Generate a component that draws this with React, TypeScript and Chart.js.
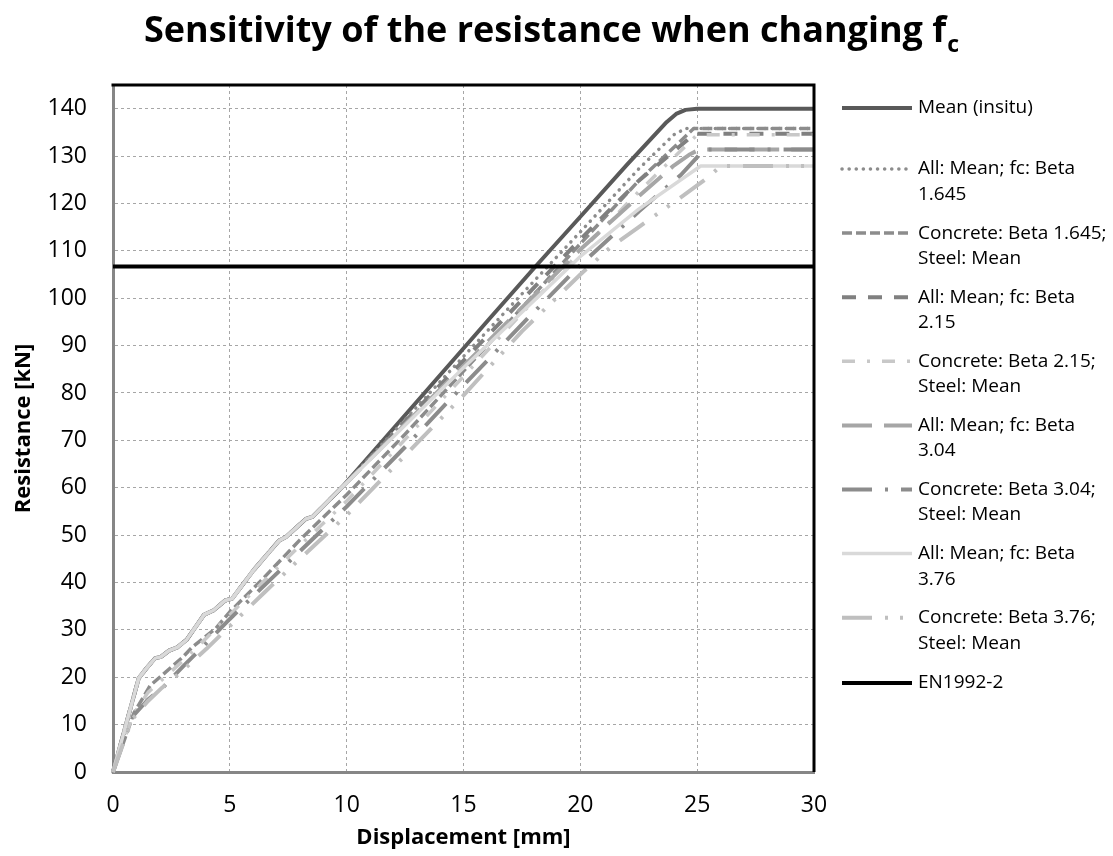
import React, { useEffect, useRef } from "react";
import { Chart, registerables } from "chart.js";

Chart.register(...registerables);

const FONT = "'Open Sans', 'DejaVu Sans', sans-serif";

// ---------------- data ----------------
const titleMain = "Sensitivity of the resistance when changing f";
const titleSub = "c";
const xAxisTitle = "Displacement [mm]";
const yAxisTitle = "Resistance [kN]";

const seriesNames = [
  "Mean (insitu)",
  "All: Mean; fc: Beta\n1.645",
  "Concrete: Beta 1.645;\nSteel: Mean",
  "All: Mean; fc: Beta\n2.15",
  "Concrete: Beta 2.15;\nSteel: Mean",
  "All: Mean; fc: Beta\n3.04",
  "Concrete: Beta 3.04;\nSteel: Mean",
  "All: Mean; fc: Beta\n3.76",
  "Concrete: Beta 3.76;\nSteel: Mean",
  "EN1992-2",
];

// early part shared by the "All" curves
const earlyX = [0, 1.1, 1.45, 1.8, 2.05, 2.4, 2.75, 3.15, 3.9, 4.3, 4.8, 5.1, 6.0, 7.1, 7.4, 8.25, 8.55, 9.8];
const earlyY = [0, 19.8, 22, 24, 24.3, 25.6, 26.3, 27.9, 33.2, 34.1, 36.2, 36.6, 42.5, 48.8, 49.6, 53.4, 53.9, 60.1];

const meanX = [...earlyX, 12.3, 14.5, 16.1, 18.1, 20, 22, 23.7, 24.1, 24.5, 25, 30];
const meanY = [...earlyY, 74.2, 86.6, 95.6, 106.8, 117.2, 128.2, 137.2, 138.9, 139.75, 140, 140];

const all1645X = [...earlyX, 12.5, 15, 17.5, 20, 22.5, 24.0, 24.5, 30];
const all1645Y = [...earlyY, 74.4, 87.7, 100.9, 114, 127.3, 134.5, 135.8, 135.8];

const con1645X = [0, 0.9, 1.6, 2.0, 3.0, 3.4, 4.4, 5.0, 6.3, 8.0, 10, 12.5, 15, 17.5, 20, 22.5, 24.85, 30];
const con1645Y = [0, 12.5, 18.3, 20, 24.3, 26.4, 30.3, 33.8, 40.2, 49, 58.5, 71.3, 84.6, 98, 111.5, 124.8, 135.8, 135.8];

const all215X = [...earlyX, 12.5, 15, 17.5, 20, 22.5, 24.9, 30];
const all215Y = [...earlyY, 74.0, 86.8, 99.6, 112.4, 124.8, 134.7, 134.7];

const con215X = [0, 0.85, 1.5, 2.1, 3.0, 4.0, 5.0, 6.5, 8.0, 10, 12.5, 15, 17.5, 20, 22.5, 25.0, 30];
const con215Y = [0, 12, 16.8, 19.5, 23.5, 28.3, 33.2, 40.5, 47.8, 57.2, 70.2, 83.5, 96.8, 109.8, 122.5, 134.5, 134.5];

const all304X = [...earlyX, 12.5, 15, 17.5, 20, 22.5, 24.0, 24.7, 25.1, 30];
const all304Y = [...earlyY, 73.4, 85.7, 98.0, 110.3, 121.5, 128.0, 130.4, 131.4, 131.4];

const con304X = [0, 0.8, 1.5, 2.15, 3.0, 4.0, 5.0, 6.5, 8.0, 10, 12.5, 15, 17.5, 20, 22.5, 24.3, 25.3, 30];
const con304Y = [0, 11.5, 15.3, 17.9, 22.3, 27.2, 32.3, 39.5, 46.6, 56, 68.6, 81.6, 94.5, 107, 118.3, 126, 131.4, 131.4];

const all376X = [...earlyX, 12.5, 15, 17.6, 20, 22.5, 25.15, 30];
const all376Y = [...earlyY, 73.2, 85.3, 97.5, 108.8, 118.8, 127.9, 127.9];

const con376X = [0, 0.8, 1.5, 2.1, 3.0, 4.0, 5.0, 6.5, 8.0, 10, 12.5, 15, 17.5, 20, 21.3, 22.5, 24.3, 25.0, 25.5, 26, 30];
const con376Y = [0, 11, 15, 17.8, 21.5, 26, 30.8, 38, 45, 54.2, 66.8, 79.5, 93, 105, 110.8, 115, 121.3, 123.8, 125.6, 127.9, 127.9];

const enX = [0, 30];
const enY = [106.7, 106.7];

const xTickValues = [0, 5, 10, 15, 20, 25, 30];
const yMin = 0;
const yMax = 145;
const yStep = 10;

// ---------------- styles ----------------
type St = { color: string; width: number; dash: number[]; cap: CanvasLineCap };
const styles: St[] = [
  { color: "#595959", width: 4, dash: [], cap: "butt" },
  { color: "#8c8c8c", width: 3.5, dash: [0.1, 7], cap: "round" },
  { color: "#8c8c8c", width: 3.5, dash: [10, 4], cap: "butt" },
  { color: "#808080", width: 4, dash: [14, 12], cap: "butt" },
  { color: "#c8c8c8", width: 3.5, dash: [13, 12, 3, 12], cap: "butt" },
  { color: "#a6a6a6", width: 4, dash: [30, 12], cap: "butt" },
  { color: "#8c8c8c", width: 4, dash: [30, 13, 3, 13], cap: "butt" },
  { color: "#d9d9d9", width: 3.5, dash: [], cap: "butt" },
  { color: "#bfbfbf", width: 4, dash: [30, 13, 3, 12, 3, 13], cap: "butt" },
  { color: "#000000", width: 4, dash: [], cap: "butt" },
];

const seriesX = [meanX, all1645X, con1645X, all215X, con215X, all304X, con304X, all376X, con376X, enX];
const seriesY = [meanY, all1645Y, con1645Y, all215Y, con215Y, all304Y, con304Y, all376Y, con376Y, enY];

// ---------------- layout ----------------
const W = 1113;
const H = 856;
const AREA = { left: 113, right: 814, top: 85, bottom: 772 };

const overlayPlugin = {
  id: "overlay",
  afterDraw(chart: any) {
    const ctx: CanvasRenderingContext2D = chart.ctx;
    const a = chart.chartArea;
    ctx.save();
    // black plot-area border (top + right)
    ctx.setLineDash([]);
    ctx.strokeStyle = "#000";
    ctx.lineWidth = 3;
    ctx.beginPath();
    ctx.moveTo(a.left - 1.5, a.top);
    ctx.lineTo(a.right, a.top);
    ctx.lineTo(a.right, a.bottom);
    ctx.stroke();

    // title
    ctx.fillStyle = "#000";
    ctx.textBaseline = "alphabetic";
    ctx.font = `bold 36px ${FONT}`;
    const wMain = ctx.measureText(titleMain).width;
    ctx.font = `bold 23px ${FONT}`;
    const wSub = ctx.measureText(titleSub).width;
    const tx = 551 - (wMain + wSub) / 2;
    ctx.font = `bold 36px ${FONT}`;
    ctx.textAlign = "left";
    ctx.fillText(titleMain, tx, 42);
    ctx.font = `bold 23px ${FONT}`;
    ctx.fillText(titleSub, tx + wMain + 1, 52);

    // axis titles
    ctx.font = `bold 22px ${FONT}`;
    ctx.textAlign = "center";
    ctx.textBaseline = "middle";
    ctx.fillText(xAxisTitle, (a.left + a.right) / 2, 838);
    ctx.save();
    ctx.translate(24, (a.top + a.bottom) / 2);
    ctx.rotate(-Math.PI / 2);
    ctx.fillText(yAxisTitle, 0, 0);
    ctx.restore();

    // legend
    ctx.textAlign = "left";
    ctx.textBaseline = "middle";
    ctx.font = `19px ${FONT}`;
    seriesNames.forEach((name, i) => {
      let y: number;
      if (i === 0) y = 108;
      else if (i === seriesNames.length - 1) y = 683;
      else y = 169 + (i - 1) * 64.1;
      const st = styles[i];
      ctx.beginPath();
      ctx.setLineDash(st.dash);
      ctx.lineCap = st.cap;
      ctx.lineWidth = st.width;
      ctx.strokeStyle = st.color;
      ctx.moveTo(842, y);
      ctx.lineTo(912, y);
      ctx.stroke();
      ctx.setLineDash([]);
      ctx.fillStyle = "#000";
      name.split("\n").forEach((ln, k) => ctx.fillText(ln, 918, y + k * 25.5));
    });
    ctx.restore();
  },
};

export default function App() {
  const ref = useRef<HTMLCanvasElement>(null);

  useEffect(() => {
    if (!ref.current) return;
    const datasets = seriesNames.map((name, i) => ({
      label: name,
      data: seriesX[i].map((x, k) => ({ x, y: seriesY[i][k] })),
      showLine: true,
      borderColor: styles[i].color,
      backgroundColor: styles[i].color,
      borderWidth: styles[i].width,
      borderDash: styles[i].dash,
      borderCapStyle: styles[i].cap,
      borderJoinStyle: "round" as const,
      pointRadius: 0,
      pointHoverRadius: 0,
      tension: 0,
      fill: false,
      order: seriesNames.length - i,
      clip: false as any,
    }));

    const chart = new Chart(ref.current, {
      type: "scatter",
      data: { datasets },
      options: {
        responsive: false,
        animation: false,
        devicePixelRatio: 1,
        layout: {
          padding: { top: AREA.top, right: W - AREA.right, left: 0, bottom: 0 },
        },
        plugins: {
          legend: { display: false },
          title: { display: false },
          tooltip: { enabled: false },
        },
        scales: {
          x: {
            type: "linear",
            min: 0,
            max: 30,
            afterFit: (s: any) => {
              s.height = H - AREA.bottom;
            },
            afterBuildTicks: (s: any) => {
              s.ticks = xTickValues.map((v) => ({ value: v }));
            },
            ticks: {
              font: { family: FONT, size: 23 },
              color: "#000",
              padding: 20,
              maxRotation: 0,
            },
            grid: {
              drawTicks: false,
              color: (c: any) =>
                c.tick && (c.tick.value === 0 || c.tick.value === 30) ? "rgba(0,0,0,0)" : "#a6a6a6",
              lineWidth: 1,
            },
            border: { display: true, color: "#868686", width: 3, dash: [3, 3] },
          },
          y: {
            type: "linear",
            min: yMin,
            max: yMax,
            afterFit: (s: any) => {
              s.width = AREA.left;
            },
            ticks: {
              stepSize: yStep,
              includeBounds: false,
              font: { family: FONT, size: 23 },
              color: "#000",
              padding: 26,
            },
            grid: {
              drawTicks: false,
              color: (c: any) => (c.tick && c.tick.value === 0 ? "rgba(0,0,0,0)" : "#a6a6a6"),
              lineWidth: 1,
            },
            border: { display: true, color: "#868686", width: 3, dash: [3, 3] },
          },
        },
      },
      plugins: [overlayPlugin],
    });
    return () => chart.destroy();
  }, []);

  return (
    <div style={{ position: "fixed", left: 0, top: 0, width: W, height: H, background: "#fff" }}>
      <canvas ref={ref} width={W} height={H} style={{ width: W, height: H }} />
    </div>
  );
}
